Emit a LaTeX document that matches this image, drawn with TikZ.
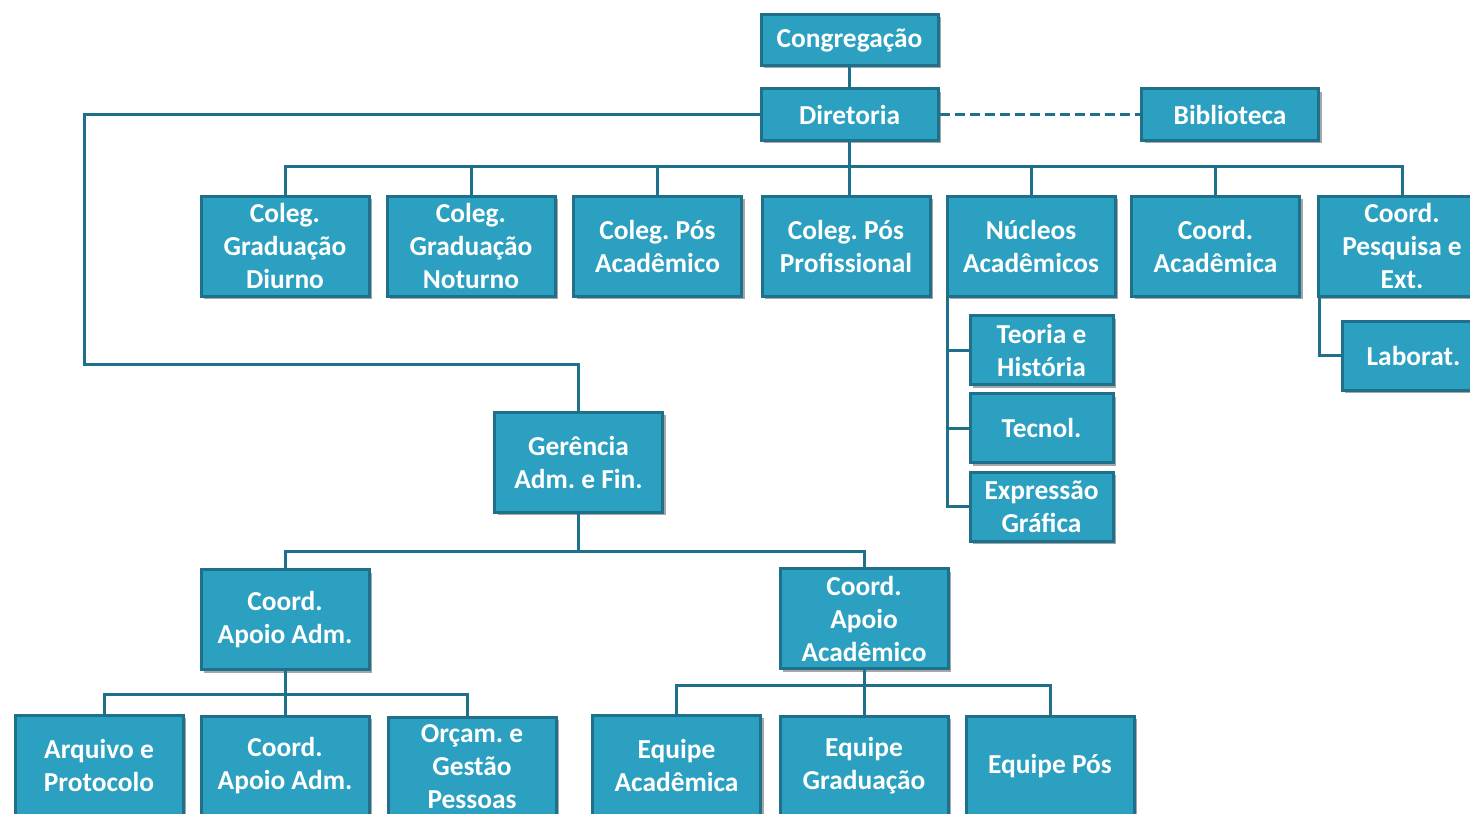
\documentclass[tikz,border=0pt]{standalone}
\usepackage{fontspec}
\setmainfont{Carlito}
\usetikzlibrary{positioning, shadows}
\definecolor{caixa}{RGB}{44,160,193}
\definecolor{borda}{RGB}{31,112,138}

\begin{document}
\begin{tikzpicture}[x=0.5pt, y=-0.5pt,
  every node/.style={font=\fontsize{13.7}{16.5}\selectfont\bfseries\frenchspacing},
  caixa/.style={draw=borda, fill=caixa, line width=1.5pt, text=white, align=center, inner sep=0pt,
    minimum width=84pt, minimum height=50pt,
    drop shadow={shadow xshift=1.5pt, shadow yshift=-1.5pt, opacity=0.35, fill=black}},
  baixa/.style={caixa, minimum width=88.5pt, minimum height=25.5pt},
  sub/.style={caixa, minimum width=71.5pt, minimum height=34.5pt},
  liga/.style={draw=borda, line width=1.5pt}]
\useasboundingbox (0,0) rectangle (1470,813);

% Direcao
\node (congreg) at (849.5,40) [baixa] {Congregação};
\node (diretoria) at (849.5,114.5) [baixa] {Diretoria};
\node (biblio) at (1230,114.5) [baixa] {Biblioteca};

% Colegiados e coordenacoes
\node (diurno) at (285,246) [caixa] {Coleg.\\Graduação\\Diurno};
\node (noturno) at (471,246) [caixa] {Coleg.\\Graduação\\Noturno};
\node (posacad) at (657.5,246) [caixa] {Coleg. Pós\\Acadêmico};
\node (profis) at (846,246) [caixa] {Coleg. Pós\\Profissional};
\node (nucleos) at (1031,246) [caixa] {Núcleos\\Acadêmicos};
\node (coordac) at (1215.5,246) [caixa] {Coord.\\Acadêmica};
\node (pesq) at (1402,246) [caixa] {Coord.\\Pesquisa e\\Ext.};

% Nucleos
\node (teoria) at (1041.5,350) [sub] {Teoria e\\História};
\node (tecnol) at (1041.5,428) [sub] {Tecnol.};
\node (expr) at (1041.5,506.5) [sub] {Expressão\\Gráfica};
\node (lab) at (1413.5,355.5) [sub] {Laborat.};

% Gerencia
\node (gerencia) at (578.5,462) [caixa] {Gerência\\Adm. e Fin.};
\node (apoioadm) at (285,619.5) [caixa] {Coord.\\Apoio Adm.};
\node (apoioac) at (864,618.5) [caixa] {Coord.\\Apoio\\Acadêmico};

% Equipes
\node (arquivo) at (99,765) [caixa] {Arquivo e\\Protocolo};
\node (coordadm) at (285,766) [caixa] {Coord.\\Apoio Adm.};
\node (orcam) at (472,767) [caixa] {Orçam. e\\Gestão\\Pessoas};
\node (equipac) at (676.5,765) [caixa] {Equipe\\Acadêmica};
\node (equipgrad) at (864,766) [caixa] {Equipe\\Graduação};
\node (equippos) at (1050,766) [caixa] {Equipe Pós};

% Ligacoes
\draw[liga] (congreg) -- (diretoria);
\draw[liga, dash pattern=on 5pt off 2.5pt] (diretoria.east) -- (biblio.west);
\draw[liga] (diretoria.south) -- (diretoria.south |- profis.north);
\draw[liga] (diurno.north) -- ++(0,-28) -| (pesq.north);
\foreach \n in {noturno, posacad, nucleos, coordac}
  \draw[liga] (\n.north) -- ++(0,-28);

\coordinate (ramo) at ([xshift=1pt]nucleos.south west);
\draw[liga] (ramo) |- (expr.west);
\draw[liga] (ramo |- teoria.west) -- (teoria.west);
\draw[liga] (ramo |- tecnol.west) -- (tecnol.west);
\draw[liga] ([xshift=1.5pt]pesq.south west) |- (lab.west);

\coordinate (volta) at (84,364);
\draw[liga] (diretoria.west) -| (volta) -| (gerencia.north);

\draw[liga] (gerencia.south) -- ++(0,38) coordinate (bus1);
\draw[liga] (apoioadm.north) |- (bus1) -| (apoioac.north);

\draw[liga] (apoioadm.south) -- ++(0,23) coordinate (bus2);
\draw[liga] ([xshift=2.5pt]arquivo.north) |- (bus2) -| ([xshift=-2.5pt]orcam.north);
\draw[liga] (bus2) -- (coordadm.north);

\draw[liga] (apoioac.south) -- (equipgrad.north);
\draw[liga] (equipac.north) -- ++(0,-28) -| (equippos.north);
\end{tikzpicture}
\end{document}
